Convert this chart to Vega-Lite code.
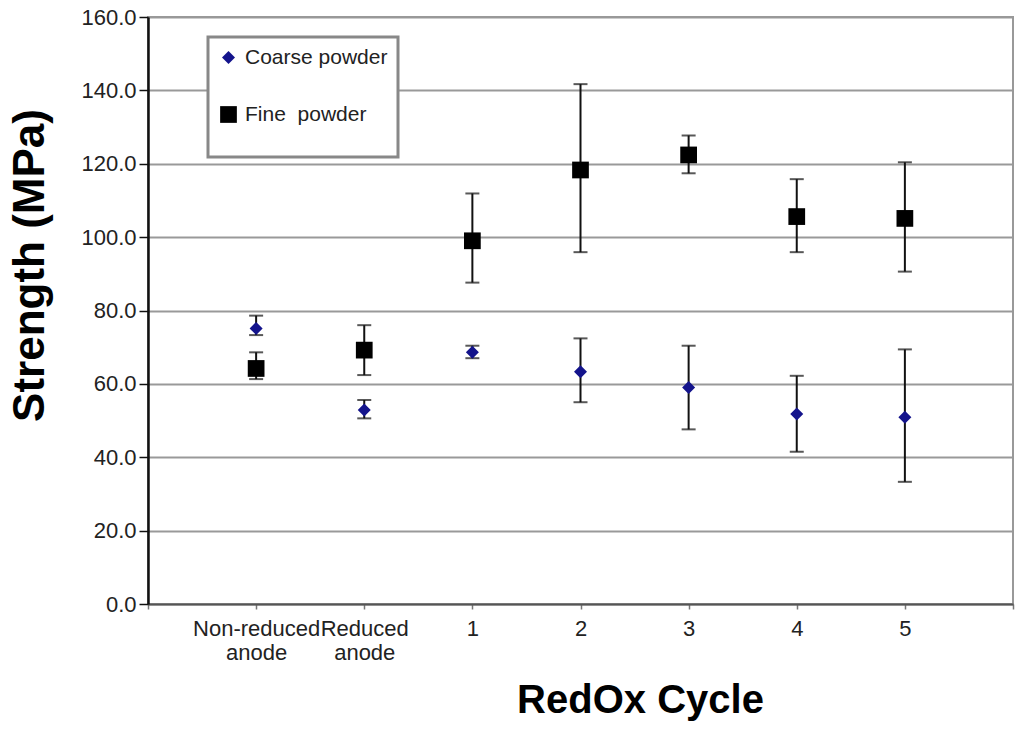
{
  "$schema": "https://vega.github.io/schema/vega-lite/v6.json",
  "width": 865,
  "height": 587,
  "autosize": "none",
  "padding": {"left": 148, "top": 17, "right": 11, "bottom": 125},
  "background": "white",
  "data": {
    "values": [
      {"stage": "Non-reduced anode", "powder": "Coarse powder", "mean": 75.1, "lo": 73.3, "hi": 78.6},
      {"stage": "Reduced anode", "powder": "Coarse powder", "mean": 52.9, "lo": 50.6, "hi": 55.6},
      {"stage": "1", "powder": "Coarse powder", "mean": 68.6, "lo": 67.0, "hi": 70.4},
      {"stage": "2", "powder": "Coarse powder", "mean": 63.3, "lo": 55.0, "hi": 72.4},
      {"stage": "3", "powder": "Coarse powder", "mean": 59.0, "lo": 47.6, "hi": 70.4},
      {"stage": "4", "powder": "Coarse powder", "mean": 51.8, "lo": 41.5, "hi": 62.2},
      {"stage": "5", "powder": "Coarse powder", "mean": 50.9, "lo": 33.3, "hi": 69.4},
      {"stage": "Non-reduced anode", "powder": "Fine  powder", "mean": 64.2, "lo": 61.3, "hi": 68.6},
      {"stage": "Reduced anode", "powder": "Fine  powder", "mean": 69.2, "lo": 62.4, "hi": 76.0},
      {"stage": "1", "powder": "Fine  powder", "mean": 99.0, "lo": 87.6, "hi": 111.9},
      {"stage": "2", "powder": "Fine  powder", "mean": 118.3, "lo": 95.9, "hi": 141.7},
      {"stage": "3", "powder": "Fine  powder", "mean": 122.4, "lo": 117.4, "hi": 127.7},
      {"stage": "4", "powder": "Fine  powder", "mean": 105.6, "lo": 95.9, "hi": 115.8},
      {"stage": "5", "powder": "Fine  powder", "mean": 105.1, "lo": 90.6, "hi": 120.4}
    ]
  },
  "encoding": {
    "x": {
      "field": "stage",
      "type": "ordinal",
      "scale": {
        "type": "point",
        "padding": 0,
        "domain": ["_start", "Non-reduced anode", "Reduced anode", "1", "2", "3", "4", "5", "_end"]
      },
      "axis": {
        "title": "RedOx Cycle",
        "labelAngle": 0,
        "labelExpr": "indexof(datum.label, '_') == 0 ? '' : split(datum.label, ' ')",
        "labelFontSize": 22,
        "labelColor": "#222",
        "labelLineHeight": 24,
        "labelPadding": 9,
        "labelBaseline": "top",
        "tickSize": 5,
        "tickColor": "#777",
        "tickWidth": 1.5,
        "domainColor": "#555",
        "domainWidth": 2,
        "grid": false,
        "titleFontSize": 40,
        "titleFontWeight": "bold",
        "titleColor": "#000",
        "titleX": 492,
        "titleY": 108,
        "titleAlign": "center",
        "titleBaseline": "alphabetic"
      }
    }
  },
  "layer": [
    {
      "mark": {"type": "rule", "color": "#111", "strokeWidth": 2},
      "encoding": {
        "y": {
          "field": "lo",
          "type": "quantitative",
          "title": "Strength (MPa)",
          "scale": {"domain": [0, 160], "nice": false},
          "axis": {"values": [0, 20, 40, 60, 80, 100, 120, 140, 160]}
        },
        "y2": {"field": "hi"}
      }
    },
    {
      "mark": {"type": "tick", "color": "#111", "thickness": 2, "size": 14, "orient": "horizontal"},
      "encoding": {"y": {"field": "lo", "type": "quantitative", "title": "Strength (MPa)"}}
    },
    {
      "mark": {"type": "tick", "color": "#111", "thickness": 2, "size": 14, "orient": "horizontal"},
      "encoding": {"y": {"field": "hi", "type": "quantitative", "title": "Strength (MPa)"}}
    },
    {
      "mark": {"type": "point", "filled": true, "opacity": 1},
      "encoding": {
        "y": {"field": "mean", "type": "quantitative", "title": "Strength (MPa)"},
        "color": {
          "field": "powder",
          "type": "nominal",
          "scale": {"domain": ["Coarse powder", "Fine  powder"], "range": ["#14148c", "#000000"]},
          "legend": {
            "title": " ",
            "titleOrient": "bottom",
            "titleFontSize": 10,
            "titlePadding": 12,
            "orient": "none",
            "legendX": 60,
            "legendY": 20,
            "padding": 10,
            "rowPadding": 35,
            "labelFontSize": 21,
            "labelColor": "#222",
            "labelOffset": 6,
            "labelExpr": "replace(datum.label, '  ', '\u00a0 ')",
            "strokeColor": "#888",
            "fillColor": "white"
          }
        },
        "shape": {
          "field": "powder",
          "type": "nominal",
          "scale": {"domain": ["Coarse powder", "Fine  powder"], "range": ["diamond", "square"]}
        },
        "size": {
          "field": "powder",
          "type": "nominal",
          "scale": {"domain": ["Coarse powder", "Fine  powder"], "range": [170, 280]}
        }
      }
    }
  ],
  "config": {
    "font": "Liberation Sans",
    "view": {"stroke": "#999", "strokeWidth": 2},
    "legend": {"strokeWidth": 3},
    "axisY": {
      "format": ".1f",
      "labelFontSize": 22,
      "labelColor": "#222",
      "labelPadding": 3,
      "tickSize": 9,
      "tickColor": "#111",
      "tickWidth": 1.5,
      "domainColor": "#111",
      "domainWidth": 2.5,
      "grid": true,
      "gridColor": "#999",
      "gridWidth": 2,
      "titleFontSize": 44,
      "titleFontWeight": "bold",
      "titleColor": "#000",
      "titleX": -118,
      "titleY": 248,
      "titleAngle": -90,
      "titleAlign": "center",
      "titleBaseline": "middle"
    }
  }
}
